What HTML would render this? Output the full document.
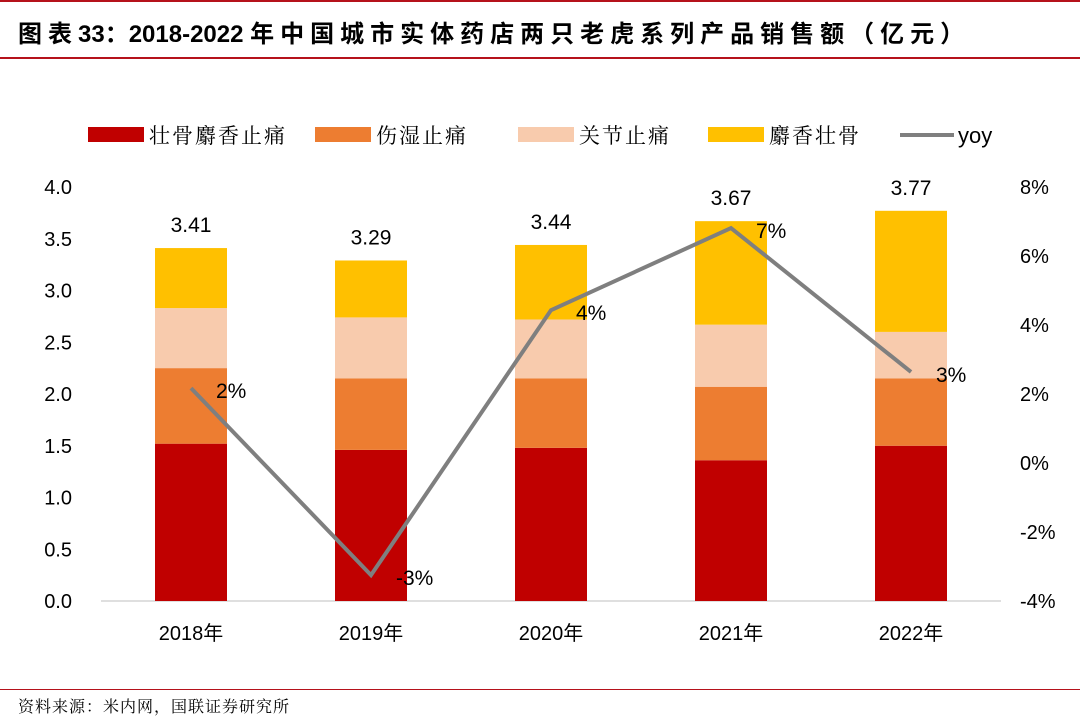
<!DOCTYPE html>
<html><head><meta charset="utf-8">
<style>
body{margin:0;background:#fff;}
#wrap{position:relative;width:1080px;height:720px;overflow:hidden;font-family:"Liberation Sans","Noto Sans CJK SC",sans-serif;}
.title{position:absolute;left:18px;top:14px;font-size:24px;font-weight:bold;color:#000;white-space:nowrap;}
.title .c{letter-spacing:6px;}
.rule{position:absolute;left:0;width:1080px;height:2px;background:#b5121b;}
.src{position:absolute;left:18px;top:694px;font-size:16px;color:#000;font-family:"Liberation Serif","Noto Serif CJK SC",serif;letter-spacing:1px;}
</style></head><body>
<div id="wrap">
<div class="rule" style="top:0px"></div>
<div class="title"><span class="c">图表</span>33：2018-2022 <span class="c">年中国城市实体药店两只老虎系列产品销售额（亿元）</span></div>
<div class="rule" style="top:57px"></div>
<div class="rule" style="top:689px;height:1px"></div>
<div class="src">资料来源：米内网，国联证券研究所</div>
<svg id="svg" width="1080" height="720" style="position:absolute;left:0;top:0"></svg>
</div>
<script>
const categories=["2018年","2019年","2020年","2021年","2022年"];
const seriesNames=["壮骨麝香止痛","伤湿止痛","关节止痛","麝香壮骨"];
const colors=["#c00000","#ed7d31","#f8cbad","#ffc000"];
const s1=[1.52,1.46,1.48,1.36,1.50];
const s2=[0.73,0.69,0.67,0.71,0.65];
const s3=[0.58,0.59,0.57,0.60,0.45];
const s4=[0.58,0.55,0.72,1.00,1.17];
const totals=["3.41","3.29","3.44","3.67","3.77"];
const yoy=[2.17,-3.25,4.43,6.81,2.64];
const yoyLabels=["2%","-3%","4%","7%","3%"];
const leftTicks=[0,0.5,1,1.5,2,2.5,3,3.5,4];
const rightTicks=[-4,-2,0,2,4,6,8];

const svg=document.getElementById('svg');
const NS="http://www.w3.org/2000/svg";
const x0=101,x1=1001,yB=601,yT=187;
const yL=v=>yB-(v/4)*(yB-yT);
const yR=v=>yB-((v+4)/12)*(yB-yT);
const xC=i=>x0+(x1-x0)/categories.length*(i+0.5);
function mk(t,a,txt){const e=document.createElementNS(NS,t);for(const k in a)e.setAttribute(k,a[k]);if(txt!==undefined)e.textContent=txt;svg.appendChild(e);return e;}
const F='"Liberation Sans","Noto Sans CJK SC",sans-serif';

leftTicks.forEach(v=>{const t=mk('text',{x:72,y:yL(v)+7,'text-anchor':'end','font-size':20,'font-family':F,fill:'#000'},v.toFixed(1));
});
rightTicks.forEach(v=>{const t=mk('text',{x:1020,y:yR(v)+7,'text-anchor':'start','font-size':20,'font-family':F,fill:'#000'},v+'%');
});
const ax=mk('line',{x1:x0,x2:x1,y1:yB,y2:yB,stroke:'#bfbfbf','stroke-width':1});


const series=[s1,s2,s3,s4];
categories.forEach((c,i)=>{
  let acc=0;
  series.forEach((s,k)=>{
    const r=mk('rect',{x:xC(i)-36,width:72,y:yL(acc+s[i]),height:yL(acc)-yL(acc+s[i]),fill:colors[k]});
    
    acc+=s[i];
  });
  const t=mk('text',{x:xC(i),y:yL(acc)-16,'text-anchor':'middle','font-size':21,'font-family':F,fill:'#000'},totals[i]);
  
  const xl=mk('text',{x:xC(i),y:640,'text-anchor':'middle','font-size':20,'font-family':F,fill:'#000'},c);
  
});

const pl=mk('polyline',{points:yoy.map((v,i)=>xC(i)+','+yR(v)).join(' '),fill:'none',stroke:'#7f7f7f','stroke-width':4});

yoy.forEach((v,i)=>{const t=mk('text',{x:xC(i)+25,y:yR(v)+10,'text-anchor':'start','font-size':21,'font-family':F,fill:'#000'},yoyLabels[i]);
});

const lx=[88,315,518,708];
seriesNames.forEach((n,k)=>{
  const r=mk('rect',{x:lx[k],y:127,width:56,height:15,fill:colors[k]});
  
  const t=mk('text',{x:lx[k]+61,y:143,'font-size':21,'font-family':'"Liberation Serif","Noto Serif CJK SC",serif',fill:'#000','letter-spacing':2},n);
  
});
const ll=mk('line',{x1:900,x2:954,y1:135,y2:135,stroke:'#7f7f7f','stroke-width':4});

const lt=mk('text',{x:958,y:143,'font-size':22,'font-family':F,fill:'#000'},'yoy');

</script>
</body></html>
